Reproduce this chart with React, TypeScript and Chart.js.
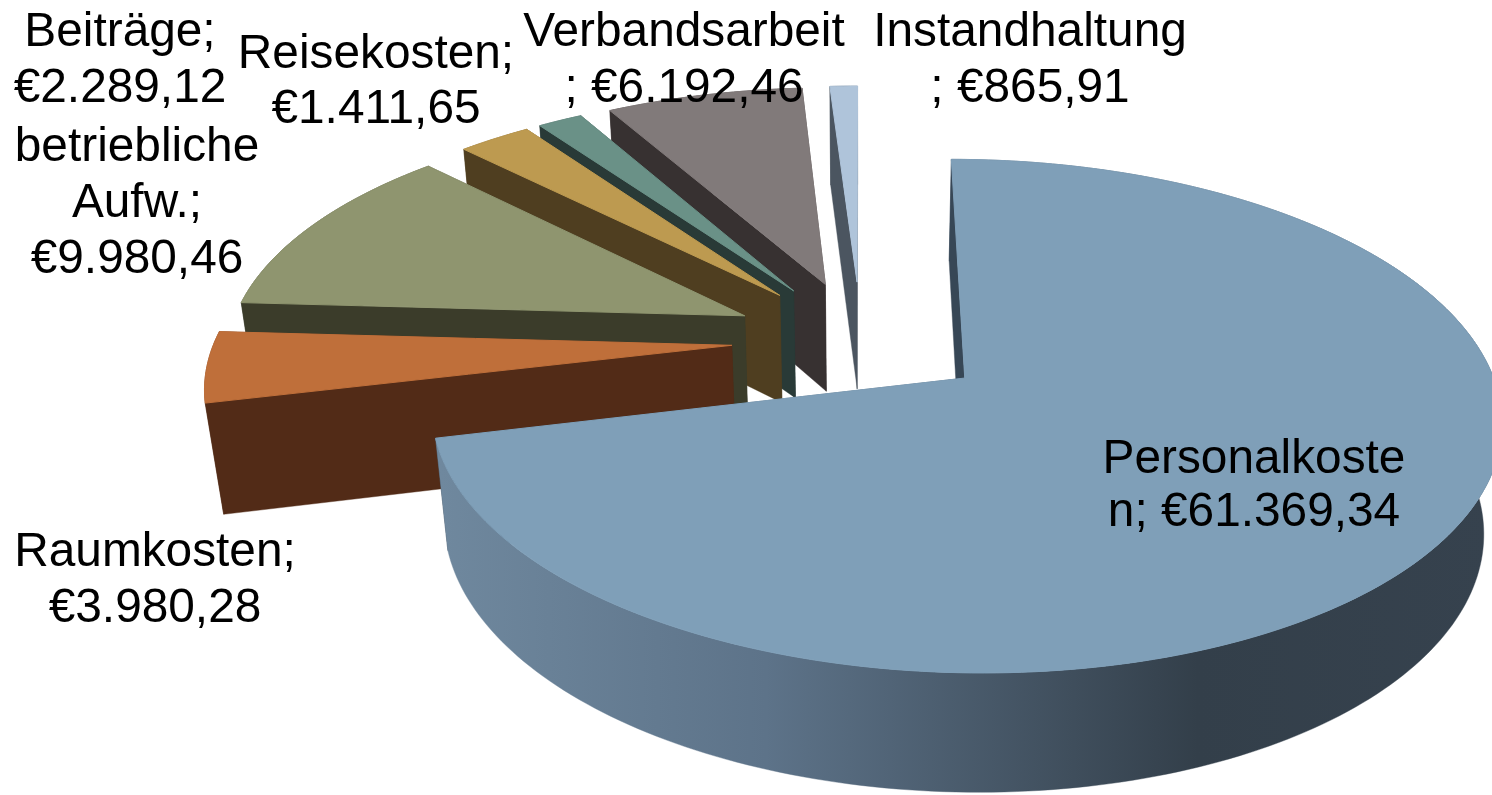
import React, { useEffect, useRef } from "react";
import { Chart, registerables } from "chart.js";

Chart.register(...registerables);

// ---- data
const categories = ["Personalkosten", "Raumkosten", "betriebliche Aufw.", "Beiträge", "Reisekosten", "Verbandsarbeit", "Instandhaltung"];
const values = [61369.34, 3980.28, 9980.46, 2289.12, 1411.65, 6192.46, 865.91];
const labelLines = [
  ["Personalkoste", "n; €61.369,34"],
  ["Raumkosten;", "€3.980,28"],
  ["betriebliche", "Aufw.;", "€9.980,46"],
  ["Beiträge;", "€2.289,12"],
  ["Reisekosten;", "€1.411,65"],
  ["Verbandsarbeit", "; €6.192,46"],
  ["Instandhaltung", "; €865,91"],
];

// ---- styles
const topColors = ["#7f9fb8", "#bf6f3a", "#8f956f", "#bd9a50", "#6a9187", "#817a7a", "#afc4da"];
const wallColors = ["#374756", "#522b17", "#3b3c2a", "#4f3e20", "#293a37", "#373131", "#4b5560"];
const labelAnchors = [
  [1254, 473, 53],
  [155, 566, 56],
  [137, 161, 56],
  [120, 46, 56],
  [376, 68, 55],
  [684, 46, 56],
  [1030, 46, 56],
];
const FONT_PX = 47.8;

// ---- projection of the exploded pie
const CX = 861, CY = 340, FX = 517, FY = 240, PERSP = 0.145, ROLL = 0;
const DEPTH_PX = 112, DEPTH_W = 0.028, EXPLODE = 0.25;

function project(u: number, v: number, z: number): [number, number] {
  const w = 1 - PERSP * v + DEPTH_W * z;
  const x = (FX * u) / w;
  return [CX + x, CY + (FY * v + DEPTH_PX * z) / w + ROLL * x];
}

const pie3d = {
  id: "pie3d",
  beforeDatasetsDraw(chart: any) {
    const ctx = chart.ctx as CanvasRenderingContext2D;
    const arcs = chart.getDatasetMeta(0).data as any[];
    const polygon = (pts: [number, number][], fill: any, edge = 0.4) => {
      ctx.beginPath();
      pts.forEach((p, i) => (i ? ctx.lineTo(p[0], p[1]) : ctx.moveTo(p[0], p[1])));
      ctx.closePath();
      ctx.fillStyle = fill;
      ctx.fill();
      ctx.strokeStyle = fill;
      ctx.lineWidth = edge;
      ctx.stroke();
    };
    ctx.save();
    for (let i = arcs.length - 1; i >= 0; i--) {
      const { startAngle, endAngle } = arcs[i].getProps(["startAngle", "endAngle"], true);
      const mid = (startAngle + endAngle) / 2;
      const ox = Math.cos(mid) * EXPLODE;
      const oy = Math.sin(mid) * EXPLODE;
      const n = Math.max(4, Math.ceil((endAngle - startAngle) / 0.02));
      const rim = (z: number) => {
        const out: [number, number][] = [];
        for (let k = 0; k <= n; k++) {
          const a = startAngle + ((endAngle - startAngle) * k) / n;
          out.push(project(ox + Math.cos(a), oy + Math.sin(a), z));
        }
        return out;
      };
      const top = rim(0);
      const bottom = rim(1);
      const apexTop = project(ox, oy, 0);
      const apexBottom = project(ox, oy, 1);
      // hidden cut face
      polygon([apexTop, top[n], bottom[n], apexBottom], wallColors[i]);
      // outer wall
      let wall: any = wallColors[i];
      if (i === 0) {
        const g = ctx.createLinearGradient(440, 0, 1492, 0);
        g.addColorStop(0, "#6f889e");
        g.addColorStop(0.31, "#5d7389");
        g.addColorStop(0.72, "#333f4a");
        g.addColorStop(1, "#36424e");
        wall = g;
      }
      polygon([...top, ...bottom.slice().reverse()], wall);
      // visible cut face
      polygon([apexTop, top[0], bottom[0], apexBottom], wallColors[i]);
      // upper surface
      polygon([apexTop, ...top], topColors[i], 1);
    }
    ctx.restore();
    return false;
  },
  afterDraw(chart: any) {
    const ctx = chart.ctx as CanvasRenderingContext2D;
    ctx.save();
    ctx.font = `${FONT_PX}px "Liberation Sans"`;
    ctx.fillStyle = "#000000";
    ctx.textAlign = "center";
    ctx.textBaseline = "alphabetic";
    labelLines.forEach((lines, i) => {
      const [x, y, step] = labelAnchors[i];
      lines.forEach((line, k) => ctx.fillText(line, x, y + k * step));
    });
    ctx.restore();
  },
};

export default function App() {
  const ref = useRef<HTMLCanvasElement>(null);
  useEffect(() => {
    const chart = new Chart(ref.current as HTMLCanvasElement, {
      type: "pie",
      data: {
        labels: categories,
        datasets: [{ data: values, backgroundColor: topColors, borderWidth: 0 }],
      },
      options: {
        animation: false,
        responsive: false,
        devicePixelRatio: 1,
        rotation: 0,
        plugins: { legend: { display: false }, tooltip: { enabled: false } },
      },
      plugins: [pie3d],
    } as any);
    return () => chart.destroy();
  }, []);
  return (
    <div style={{ position: "absolute", left: 0, top: 0, width: 1492, height: 795, background: "#ffffff", overflow: "hidden" }}>
      <canvas ref={ref} width={1492} height={795} style={{ display: "block" }} />
    </div>
  );
}
